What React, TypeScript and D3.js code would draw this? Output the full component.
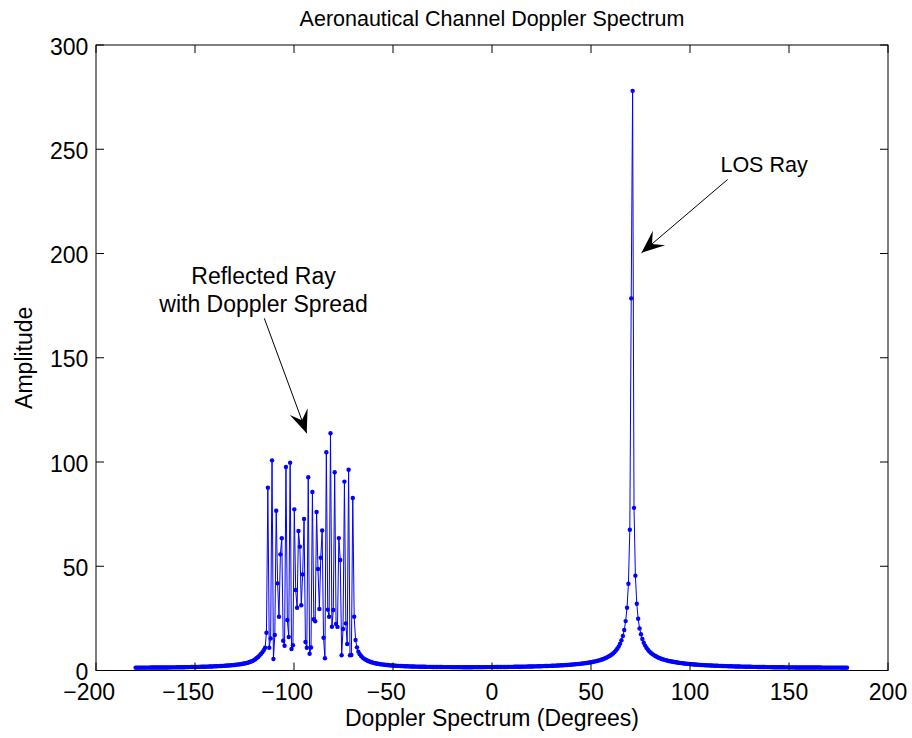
import React from "react";
import * as d3 from "d3";

// ---- data ----
const angleStart = -180;
const angleStep = 360 / 512;

const leftTail = [
  1.37, 1.37, 1.37, 1.38, 1.38, 1.38, 1.39, 1.39, 1.39, 1.40,
  1.40, 1.41, 1.41, 1.42, 1.42, 1.43, 1.43, 1.44, 1.44, 1.45,
  1.45, 1.46, 1.47, 1.47, 1.48, 1.49, 1.50, 1.51, 1.52, 1.52,
  1.53, 1.54, 1.55, 1.56, 1.58, 1.59, 1.60, 1.61, 1.62, 1.64,
  1.65, 1.67, 1.68, 1.70, 1.71, 1.73, 1.75, 1.77, 1.79, 1.81,
  1.83, 1.85, 1.88, 1.90, 1.93, 1.95, 1.98, 2.01, 2.05, 2.08,
  2.11, 2.15, 2.19, 2.23, 2.27, 2.32, 2.37, 2.42, 2.48, 2.54,
  2.60, 2.67, 2.75, 2.83, 2.92, 3.01, 3.11, 3.23, 3.35, 3.49,
  3.64, 3.81, 4.05, 4.30, 4.6, 5.0, 5.4, 6.0, 6.5, 7.2,
  7.9, 8.7, 9.7,
];

const reflectedRay = [
  10.9, 18.1, 87.7, 10.9, 15.4, 100.8, 5.5, 17.0, 76.6, 41.8,
  25.8, 55.7, 63.4, 14.3, 11.9, 97.6, 24.2, 16.1, 99.7, 10.3,
  12.1, 77.3, 38.6, 30.1, 66.9, 59.4, 31.3, 46.1, 72.7, 13.7,
  10.9, 92.7, 8.0, 11.0, 85.6, 24.6, 23.6, 76.0, 48.7, 29.5,
  54.1, 67.2, 15.7, 5.9, 104.7, 29.2, 25.8, 113.8, 21.0, 29.0,
  95.1, 22.3, 20.9, 63.5, 53.0, 7.3, 19.9, 90.6, 22.6, 12.7,
  96.3, 7.3, 7.4, 82.7, 25.8, 14.6, 11.1,
];

const midSpan = [
  9.04, 7.85, 6.96, 6.27, 5.71, 5.26, 4.89, 4.57, 4.29, 4.05,
  3.85, 3.67, 3.51, 3.36, 3.24, 3.12, 3.01, 2.92, 2.83, 2.75,
  2.67, 2.61, 2.54, 2.48, 2.43, 2.38, 2.33, 2.28, 2.24, 2.20,
  2.17, 2.13, 2.10, 2.07, 2.04, 2.01, 1.99, 1.96, 1.94, 1.92,
  1.90, 1.88, 1.86, 1.84, 1.82, 1.81, 1.79, 1.78, 1.77, 1.75,
  1.74, 1.73, 1.72, 1.71, 1.70, 1.69, 1.68, 1.67, 1.66, 1.66,
  1.65, 1.64, 1.64, 1.63, 1.63, 1.62, 1.62, 1.61, 1.61, 1.61,
  1.60, 1.60, 1.60, 1.60, 1.60, 1.59, 1.59, 1.59, 1.59, 1.59,
  1.59, 1.59, 1.59, 1.60, 1.60, 1.60, 1.60, 1.60, 1.61, 1.61,
  1.61, 1.62, 1.62, 1.63, 1.63, 1.63, 1.64, 1.64, 1.65, 1.66,
  1.66, 1.67, 1.68, 1.68, 1.69, 1.70, 1.70, 1.71, 1.72, 1.73,
  1.74, 1.75, 1.77, 1.78, 1.79, 1.80, 1.81, 1.82, 1.84, 1.85,
  1.87, 1.88, 1.90, 1.91, 1.93, 1.94, 1.96, 1.98, 2.00, 2.02,
  2.04, 2.07, 2.09, 2.11, 2.14, 2.16, 2.18, 2.20, 2.23, 2.26,
  2.29, 2.32, 2.35, 2.39, 2.42, 2.46, 2.50, 2.54, 2.58, 2.63,
  2.67, 2.72, 2.77, 2.82, 2.88, 2.94, 3.00, 3.06, 3.13, 3.20,
  3.28, 3.36, 3.44, 3.53, 3.63, 3.73, 3.84, 3.96, 4.08, 4.22,
  4.37, 4.52, 4.69, 4.87, 5.07, 5.29, 5.53, 5.80, 6.09, 6.42,
  6.80, 7.20, 7.67, 8.21, 8.84, 9.58, 10.45, 11.51, 12.82, 14.48,
];

const losPeak = [
  16.6, 19.4, 23.7, 30.1, 41.6, 67.5, 178.5, 278, 78, 45.5, 32, 24.8, 20.2, 17.4,
];

const rightTail = [
  15.1, 13.3, 11.95, 10.85, 9.94, 9.17, 8.53, 7.98, 7.50, 7.07,
  6.69, 6.35, 6.05, 5.78, 5.53, 5.31, 5.10, 4.92, 4.74, 4.58,
  4.43, 4.30, 4.18, 4.05, 3.94, 3.84, 3.74, 3.64, 3.56, 3.47,
  3.39, 3.32, 3.25, 3.18, 3.11, 3.03, 2.97, 2.91, 2.86, 2.81,
  2.76, 2.72, 2.67, 2.63, 2.59, 2.55, 2.51, 2.47, 2.44, 2.41,
  2.37, 2.34, 2.31, 2.28, 2.25, 2.22, 2.20, 2.17, 2.15, 2.12,
  2.10, 2.08, 2.06, 2.03, 2.01, 1.99, 1.97, 1.95, 1.94, 1.92,
  1.90, 1.88, 1.87, 1.85, 1.83, 1.82, 1.80, 1.79, 1.78, 1.76,
  1.75, 1.74, 1.72, 1.71, 1.70, 1.69, 1.67, 1.66, 1.65, 1.64,
  1.63, 1.62, 1.61, 1.60, 1.59, 1.58, 1.57, 1.56, 1.55, 1.54,
  1.54, 1.53, 1.52, 1.51, 1.50, 1.50, 1.49, 1.48, 1.48, 1.48,
  1.47, 1.47, 1.46, 1.46, 1.46, 1.45, 1.45, 1.44, 1.44, 1.44,
  1.43, 1.43, 1.43, 1.42, 1.42, 1.41, 1.41, 1.41, 1.41, 1.40,
  1.40, 1.40, 1.40, 1.39, 1.39, 1.39, 1.39, 1.39, 1.38, 1.38,
  1.38, 1.38, 1.38, 1.38, 1.37, 1.37, 1.37, 1.37,
];

const amplitude = [...leftTail, ...reflectedRay, ...midSpan, ...losPeak, ...rightTail];

const xTicks = [-200, -150, -100, -50, 0, 50, 100, 150, 200];
const yTicks = [0, 50, 100, 150, 200, 250, 300];

const titleText = "Aeronautical Channel Doppler Spectrum";
const xLabelText = "Doppler Spectrum (Degrees)";
const yLabelText = "Amplitude";
const reflectedLabel = ["Reflected Ray", "with Doppler Spread"];
const losLabel = "LOS Ray";

// annotation anchors in data units
const reflectedTextPos = { x: -115.4, y: 185.2 };
const reflectedArrow = { from: { x: -115.0, y: 168.9 }, to: { x: -93.6, y: 113.8 } };
const losTextPos = { x: 137.4, y: 239.0 };
const losArrow = { from: { x: 119.0, y: 235.5 }, to: { x: 75.5, y: 200.3 } };

const FONT = "'Liberation Sans', Arial, Helvetica, sans-serif";
const FS = 23;

function arrowHead(tx: number, ty: number, fx: number, fy: number, L = 23, Wd = 19, notch = 0.6) {
  const dx = tx - fx, dy = ty - fy;
  const len = Math.hypot(dx, dy);
  const ux = dx / len, uy = dy / len;
  const px = -uy, py = ux;
  const bx = tx - ux * L, by = ty - uy * L;
  const w1 = [bx + px * Wd / 2, by + py * Wd / 2];
  const w2 = [bx - px * Wd / 2, by - py * Wd / 2];
  const n = [tx - ux * L * notch, ty - uy * L * notch];
  return `M${tx},${ty}L${w1[0]},${w1[1]}L${n[0]},${n[1]}L${w2[0]},${w2[1]}Z`;
}

export default function App() {
  const W = 912, H = 738;
  const left = 96, right = 888, top = 45, bottom = 670.5;
  const x = d3.scaleLinear().domain([-200, 200]).range([left, right]);
  const y = d3.scaleLinear().domain([0, 300]).range([bottom, top]);

  const data = amplitude.map((v, i) => ({ a: angleStart + i * angleStep, v }));
  const linePath = d3.line<{ a: number; v: number }>()
    .x((d) => x(d.a))
    .y((d) => y(d.v))(data) as string;

  const tickLen = 8;
  const digitW = 0.556 * FS;

  const ra = reflectedArrow, la = losArrow;

  return (
    <svg width={W} height={H} style={{ position: "absolute", left: 0, top: 0, background: "#fff" }}
      fontFamily={FONT}>
      <rect x={0} y={0} width={W} height={H} fill="#fff" />
      {/* data */}
      <path d={linePath} fill="none" stroke="#0000ff" strokeWidth={1} />
      {data.map((d, i) => (
        <circle key={i} cx={x(d.a)} cy={y(d.v)} r={2.2} fill="#0000ff" />
      ))}
      {/* box */}
      <rect x={left} y={top} width={right - left} height={bottom - top} fill="none" stroke="#000" strokeWidth={1} />
      {/* ticks */}
      {xTicks.map((t) => (
        <g key={"xt" + t}>
          <line x1={x(t)} x2={x(t)} y1={bottom} y2={bottom - tickLen} stroke="#000" strokeWidth={1} />
          <line x1={x(t)} x2={x(t)} y1={top} y2={top + tickLen} stroke="#000" strokeWidth={1} />
          <text x={x(t) + (String(Math.abs(t)).length * digitW) / 2} y={700} textAnchor="end" fontSize={FS} fill="#000">
            {t < 0 ? "\u2212" + Math.abs(t) : String(t)}
          </text>
        </g>
      ))}
      {yTicks.map((t) => (
        <g key={"yt" + t}>
          <line x1={left} x2={left + tickLen} y1={y(t)} y2={y(t)} stroke="#000" strokeWidth={1} />
          <line x1={right} x2={right - tickLen} y1={y(t)} y2={y(t)} stroke="#000" strokeWidth={1} />
          <text x={88.3} y={y(t) + 9.5} textAnchor="end" fontSize={FS} fill="#000">{String(t)}</text>
        </g>
      ))}
      {/* labels */}
      <text x={(left + right) / 2} y={26} textAnchor="middle" fontSize={21.5} fill="#000">{titleText}</text>
      <text x={(left + right) / 2} y={726} textAnchor="middle" fontSize={FS} fill="#000">{xLabelText}</text>
      <text transform={`translate(32,${(top + bottom) / 2}) rotate(-90)`} textAnchor="middle" fontSize={FS} fill="#000">{yLabelText}</text>
      {/* annotations */}
      {reflectedLabel.map((s, i) => (
        <text key={s} x={x(reflectedTextPos.x)} y={y(reflectedTextPos.y) + i * 27.4} textAnchor="middle" fontSize={FS} fill="#000">{s}</text>
      ))}
      <line x1={x(ra.from.x)} y1={y(ra.from.y)} x2={x(ra.to.x)} y2={y(ra.to.y)} stroke="#000" strokeWidth={1} />
      <path d={arrowHead(x(ra.to.x), y(ra.to.y), x(ra.from.x), y(ra.from.y))} fill="#000" />
      <text x={x(losTextPos.x)} y={y(losTextPos.y)} textAnchor="middle" fontSize={21.5} fill="#000">{losLabel}</text>
      <line x1={x(la.from.x)} y1={y(la.from.y)} x2={x(la.to.x)} y2={y(la.to.y)} stroke="#000" strokeWidth={1} />
      <path d={arrowHead(x(la.to.x), y(la.to.y), x(la.from.x), y(la.from.y))} fill="#000" />
    </svg>
  );
}
